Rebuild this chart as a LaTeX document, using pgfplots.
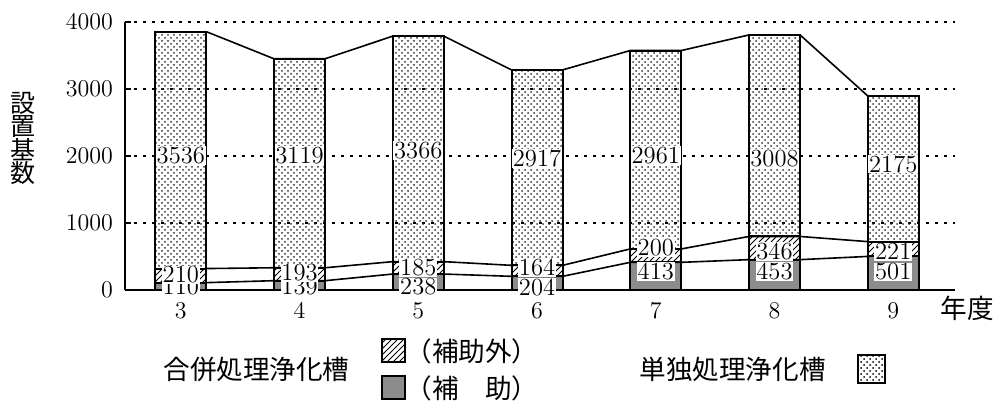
\documentclass[border=0pt]{standalone}
\usepackage{pgfplots}
\pgfplotsset{compat=1.18}
\usetikzlibrary{patterns}
\usepackage{fontspec}
\newfontfamily\cjk{Noto Sans CJK JP}

\begin{document}
\begin{tikzpicture}
\pgfplotsset{
  base/.style={scale only axis, width=415pt, height=134pt, xmin=2.53, xmax=9.52, ymin=0, ymax=4000, clip=false},
  lbl/.style={draw=none, mark=none, point meta=explicit symbolic, nodes near coords,
    nodes near coords style={anchor=center, fill=white, inner sep=0.4pt, font=\fontsize{12.3}{12.3}\selectfont}},
}
\useasboundingbox (-62.5pt,-55.5pt) rectangle (435.5pt,145pt);
\begin{axis}[base,
  ybar stacked, bar width=0.43,
  axis x line=bottom, axis y line=left,
  x axis line style={-, line width=1pt},
  y axis line style={-, line width=1.4pt},
  xtick={3,...,9}, xtick style={draw=none},
  ytick={0,1000,2000,3000,4000},
  ymajorgrids, grid style={black, dash pattern=on 1.5pt off 3pt, line width=0.6pt},
  tick align=inside, major tick length=3pt,
  ytick style={line width=1pt, black},
  tick label style={font=\fontsize{12.3}{12.3}\selectfont},
  xticklabel style={yshift=-3pt},
  yticklabel style={xshift=-2.5pt, /pgf/number format/1000 sep={}},
  scaled y ticks=false,
]
% 合併処理浄化槽（補助）
\addplot[fill=black!45, draw=black, line width=1pt] coordinates {(3,110)(4,139)(5,238)(6,204)(7,413)(8,453)(9,501)};
% 合併処理浄化槽（補助外）
\addplot[pattern=north east lines, draw=black, line width=1pt] coordinates {(3,210)(4,193)(5,185)(6,164)(7,200)(8,346)(9,221)};
% 単独処理浄化槽
\addplot[pattern=crosshatch dots, pattern color=black!80, draw=black, line width=1pt] coordinates {(3,3536)(4,3119)(5,3366)(6,2917)(7,2961)(8,3008)(9,2175)};
\end{axis}

\begin{axis}[base, hide axis]
\addplot[black, line width=0.8pt, mark=none] coordinates {(3.215,110)(3.785,139)(4.215,139)(4.785,238)(5.215,238)(5.785,204)(6.215,204)(6.785,413)(7.215,413)(7.785,453)(8.215,453)(8.785,501)};
\addplot[black, line width=0.8pt, mark=none] coordinates {(3.215,320)(3.785,332)(4.215,332)(4.785,423)(5.215,423)(5.785,368)(6.215,368)(6.785,613)(7.215,613)(7.785,799)(8.215,799)(8.785,722)};
\addplot[black, line width=0.8pt, mark=none] coordinates {(3.215,3856)(3.785,3451)(4.215,3451)(4.785,3789)(5.215,3789)(5.785,3285)(6.215,3285)(6.785,3574)(7.215,3574)(7.785,3807)(8.215,3807)(8.785,2897)};
% labels
\addplot[lbl] coordinates {(3,45)[110] (4,45)[139] (5,45)[238] (6,45)[204] (7,272)[413] (8,276)[453] (9,272)[501]};
\addplot[lbl] coordinates {(3,226)[210] (4,257)[193] (5,332)[185] (6,332)[164] (7,634)[200] (8,578)[346] (9,574)[221]};
\addplot[lbl] coordinates {(3,2008)[3536] (4,2008)[3119] (5,2083)[3366] (6,1962)[2917] (7,2008)[2961] (8,1962)[3008] (9,1880)[2175]};
\end{axis}

\node[font=\cjk\fontsize{12.5}{11.8}\selectfont, align=center] at (-50.75pt,75.75pt) {設\\置\\基\\数};
\node[font=\cjk\fontsize{13.3}{14}\selectfont] at (421pt,-9pt) {年度};
\node[font=\cjk\fontsize{13.3}{14}\selectfont] at (65.75pt,-39.5pt) {合併処理浄化槽};
\draw[pattern=north east lines, line width=0.7pt] (128.5pt,-36pt) rectangle (140pt,-24.5pt);
\node[anchor=west, font=\cjk\fontsize{13.3}{14}\selectfont, inner sep=0pt] at (140pt,-30.5pt) {（補助外）};
\draw[fill=black!45, line width=0.7pt] (128.5pt,-54.5pt) rectangle (140pt,-43pt);
\node[anchor=west, font=\cjk\fontsize{13.3}{14}\selectfont, inner sep=0pt] at (140pt,-49pt) {（補　助）};
\node[font=\cjk\fontsize{13.3}{14}\selectfont] at (303.75pt,-39.5pt) {単独処理浄化槽};
\draw[pattern=crosshatch dots, line width=0.7pt] (366.5pt,-46.5pt) rectangle (380pt,-32.5pt);
\end{tikzpicture}
\end{document}
